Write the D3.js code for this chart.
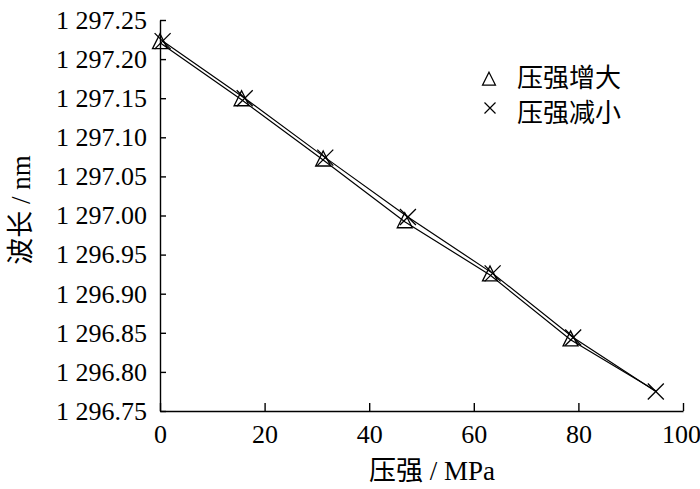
<!DOCTYPE html>
<html>
<head>
<meta charset="utf-8">
<script src="https://cdn.jsdelivr.net/npm/d3@7"></script>
<style>
  body { margin: 0; background: #fff; }
</style>
</head>
<body>
<svg id="chart"></svg>
<script>
const width = 700;
const height = 489;
const fontFamily = 'Liberation Serif, serif';
const cjkFamily = 'Noto Sans CJK SC, sans-serif';

// 数据：压强增大 / 压强减小 两组测量 (波长 nm)
const incX = [0, 15.6, 31.2, 46.8, 63.1, 78.5, 95];
const incY = [1297.221, 1297.148, 1297.071, 1296.992, 1296.924, 1296.841, 1296.775];
const decX = [0.5, 16.2, 31.6, 47.4, 63.6, 79.0, 94.8];
const decY = [1297.223, 1297.150, 1297.074, 1296.998, 1296.926, 1296.844, 1296.775];
const xTicks = [0, 20, 40, 60, 80, 100];
const yTicks = [1296.75, 1296.80, 1296.85, 1296.90, 1296.95, 1297.00, 1297.05, 1297.10, 1297.15, 1297.20, 1297.25];
const legendLabels = ['压强增大', '压强减小'];

const svg = d3.select('#chart')
  .attr('width', width)
  .attr('height', height);

const xScale = d3.scaleLinear().domain([0, 100]).range([160, 683]);
const yScale = d3.scaleLinear().domain([1296.75, 1297.25]).range([411, 20]);

// 千位用空格分隔，如 1 297.25
const fmt = d3.formatLocale({ decimal: '.', thousands: ' ', grouping: [3], currency: ['', ''] }).format(',.2f');

// 刻度朝内
const gx = svg.append('g')
  .attr('transform', 'translate(0, 411)')
  .call(d3.axisBottom(xScale).tickValues(xTicks).tickSizeInner(-8).tickSizeOuter(0).tickPadding(14));

const gy = svg.append('g')
  .attr('transform', 'translate(160, 0)')
  .call(d3.axisLeft(yScale).tickValues(yTicks).tickFormat(fmt).tickSizeInner(-6).tickSizeOuter(0).tickPadding(13));

[gx, gy].forEach(g => {
  g.attr('font-family', fontFamily).attr('font-size', 26);
  g.selectAll('text').attr('fill', '#000');
  g.selectAll('path, line').attr('stroke', '#000').attr('stroke-width', 1.4);
});
// 最右端 100 稍微左移，避免超出画布
gx.selectAll('.tick text').filter(d => d === 100).attr('dx', '-2');

// 轴标题：中文与西文分开设置字体
const xTitle = svg.append('text')
  .attr('x', 432)
  .attr('y', 480)
  .attr('text-anchor', 'middle')
  .attr('font-size', 27);
xTitle.append('tspan').attr('font-family', cjkFamily).text('压强');
xTitle.append('tspan').attr('font-family', fontFamily).text(' / MPa');

const yTitle = svg.append('text')
  .attr('transform', 'translate(30, 210) rotate(-90)')
  .attr('text-anchor', 'middle')
  .attr('font-size', 27);
yTitle.append('tspan').attr('font-family', cjkFamily).text('波长');
yTitle.append('tspan').attr('font-family', fontFamily).text(' / nm');

// 标记形状
const triPath = s => `M0,${-s * 0.6}L${s * 0.5},${s * 0.4}L${-s * 0.5},${s * 0.4}Z`;
const crossPath = s => `M${-s / 2},${-s / 2}L${s / 2},${s / 2}M${s / 2},${-s / 2}L${-s / 2},${s / 2}`;

const incData = incX.map((x, i) => ({ x: x, y: incY[i] }));
const decData = decX.map((x, i) => ({ x: x, y: decY[i] }));

const line = d3.line().x(d => xScale(d.x)).y(d => yScale(d.y));

[incData, decData].forEach(data => {
  svg.append('path')
    .datum(data)
    .attr('d', line)
    .attr('fill', 'none')
    .attr('stroke', '#000')
    .attr('stroke-width', 1.2);
});

// 三角形：最后一点（95 MPa）在原图中只显示叉号
svg.append('g')
  .selectAll('path')
  .data(incData.slice(0, incData.length - 1))
  .enter()
  .append('path')
  .attr('transform', d => `translate(${xScale(d.x)}, ${yScale(d.y)})`)
  .attr('d', triPath(15))
  .attr('fill', 'none')
  .attr('stroke', '#000')
  .attr('stroke-width', 1.3);

svg.append('g')
  .selectAll('path')
  .data(decData)
  .enter()
  .append('path')
  .attr('transform', d => `translate(${xScale(d.x)}, ${yScale(d.y)})`)
  .attr('d', crossPath(16))
  .attr('fill', 'none')
  .attr('stroke', '#000')
  .attr('stroke-width', 1.3);

// 图例
const legend = svg.append('g');
legend.append('path')
  .attr('transform', 'translate(489, 80)')
  .attr('d', triPath(13))
  .attr('fill', 'none')
  .attr('stroke', '#000')
  .attr('stroke-width', 1.2);
legend.append('path')
  .attr('transform', 'translate(490, 108)')
  .attr('d', crossPath(11))
  .attr('fill', 'none')
  .attr('stroke', '#000')
  .attr('stroke-width', 1.2);
legend.selectAll('text')
  .data(legendLabels)
  .enter()
  .append('text')
  .attr('x', 517)
  .attr('y', (d, i) => 75 + i * 35)
  .attr('dominant-baseline', 'central')
  .attr('font-family', cjkFamily)
  .attr('font-size', 26)
  .text(d => d);
</script>
</body>
</html>
